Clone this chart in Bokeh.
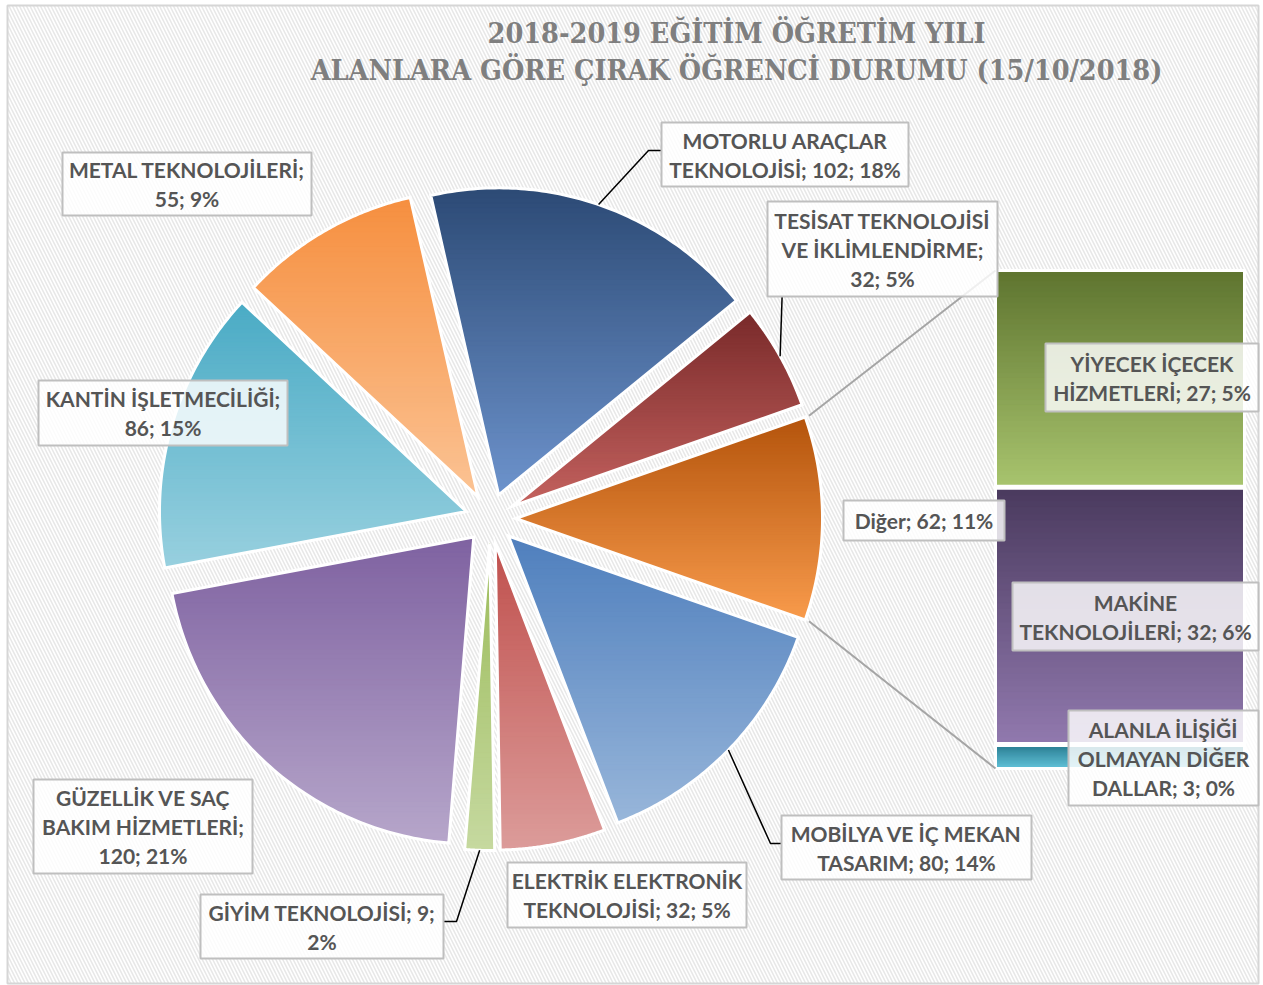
import numpy as np
from bokeh.plotting import figure
from bokeh.models import Range1d, ColumnDataSource
from bokeh.embed import file_html
from bokeh.resources import INLINE
from bokeh.core.properties import value

# ---------------- data ----------------
title_lines = ["2018-2019 EĞİTİM ÖĞRETİM YILI",
               "ALANLARA GÖRE ÇIRAK ÖĞRENCİ DURUMU (15/10/2018)"]

pie_names = ["MOTORLU ARAÇLAR\nTEKNOLOJİSİ", "TESİSAT TEKNOLOJİSİ\nVE İKLİMLENDİRME",
             "Diğer", "MOBİLYA VE İÇ MEKAN\nTASARIM", "ELEKTRİK ELEKTRONİK\nTEKNOLOJİSİ",
             "GİYİM TEKNOLOJİSİ", "GÜZELLİK VE SAÇ\nBAKIM HİZMETLERİ",
             "KANTİN İŞLETMECİLİĞİ", "METAL TEKNOLOJİLERİ"]
pie_values = [102, 32, 62, 80, 32, 9, 120, 86, 55]
pie_pcts = ["18%", "5%", "11%", "14%", "5%", "2%", "21%", "15%", "9%"]

bar_names = ["YİYECEK İÇECEK\nHİZMETLERİ", "MAKİNE\nTEKNOLOJİLERİ",
             "ALANLA İLİŞİĞİ\nOLMAYAN DİĞER\nDALLAR"]
bar_values = [27, 32, 3]
bar_pcts = ["5%", "6%", "0%"]

# ---------------- styles / layout ----------------
pie_top = ["#2c4a75", "#792a2a", "#b4540c", "#4f7fbd", "#c0504d", "#9bbb59", "#7f62a1", "#4aabc5", "#f68f3f"]
pie_bot = ["#6d93cc", "#c4625f", "#f89b4c", "#98b6da", "#dc9c9a", "#c6d9a0", "#b6a6ca", "#98d0df", "#fbc394"]
bar_top = ["#5e742f", "#4a3a5e", "#2a7d91"]
bar_bot = ["#a8c46e", "#9179ae", "#62c2d8"]

# label layout: box (x0, y0, x1, y1), separator after name, separator after value
pie_boxes = [(661, 122, 908, 186), (767, 201, 997, 296), (843, 500, 1004, 540),
             (781, 815, 1031, 879), (507, 862, 746, 927), (200, 894, 443, 958),
             (33, 779, 252, 873), (38, 380, 287, 445), (62, 152, 311, 215)]
pie_sep1 = ["; ", ";\n", "; ", "; ", "; ", "; ", ";\n", ";\n", ";\n"]
pie_sep2 = ["; ", "; ", "; ", "; ", "; ", ";\n", "; ", "; ", "; "]
bar_boxes = [(1045, 343, 1258, 411), (1012, 582, 1258, 650), (1068, 710, 1258, 805)]

CX, CY, R, EXPL = 490.0, 518.0, 307.0, 25.0
BAR_X0, BAR_X1, BAR_Y0, BAR_Y1 = 995.0, 1244.0, 270.0, 768.0
TXT = "#555555"
FONT = "Lato"
FS = "21px"
LINE_H = 29.0

W, H = 1263, 985
p = figure(width=W, height=H, x_range=Range1d(0, W), y_range=Range1d(H, 0),
           output_backend="svg", toolbar_location=None, min_border=0)
p.axis.visible = False
p.grid.visible = False
p.outline_line_color = None
p.background_fill_color = "white"
p.border_fill_color = "white"

# chart area with diagonal stripes
p.quad(left=[7], right=[1258], top=[5], bottom=[983], fill_color="white",
       line_color="#d6d6d6", line_width=2, hatch_pattern="left_diagonal_line",
       hatch_color="#e8e8e8", hatch_weight=1.6, hatch_scale=7)


def hex2rgb(h):
    h = h.lstrip("#")
    return np.array([int(h[i:i + 2], 16) for i in (0, 2, 4)], dtype=float)


def lerp(c0, c1, t):
    c = hex2rgb(c0) * (1 - t) + hex2rgb(c1) * t
    return "#%02x%02x%02x" % tuple(int(round(v)) for v in c)


def clip_half(pts, keep, yc):
    out = []
    n = len(pts)
    for i in range(n):
        a, b = pts[i], pts[(i + 1) % n]
        ka, kb = keep(a), keep(b)
        if ka:
            out.append(a)
        if ka != kb:
            t = (yc - a[1]) / (b[1] - a[1])
            out.append((a[0] + t * (b[0] - a[0]), yc))
    return out


def bands(poly, ctop, cbot, n=60):
    ys = [q[1] for q in poly]
    ymin, ymax = min(ys), max(ys)
    res = []
    step = (ymax - ymin) / n
    for i in range(n):
        y0 = ymin + i * step
        y1 = y0 + step + 0.9
        pts = clip_half(poly, lambda q: q[1] >= y0, y0)
        if pts:
            pts = clip_half(pts, lambda q: q[1] <= y1, y1)
        if len(pts) >= 3:
            res.append(([q[0] for q in pts], [q[1] for q in pts], lerp(ctop, cbot, (i + 0.5) / n)))
    return res


# ---------------- pie geometry ----------------
vals = np.array(pie_values, dtype=float)
tot = vals.sum()
ang = vals / tot * 360.0
idx_other = pie_names.index("Diğer")
start0 = 90.0 - ang[idx_other] / 2 - ang[:idx_other].sum()
starts = start0 + np.concatenate([[0], np.cumsum(ang)[:-1]])
ends = starts + ang
mids = (starts + ends) / 2


def pt(cx, cy, r, deg):
    t = np.radians(deg)
    return (cx + r * np.sin(t), cy - r * np.cos(t))


band_xs, band_ys, band_c = [], [], []
out_xs, out_ys = [], []
tips, arcmid = [], []
for i in range(len(vals)):
    tx, ty = pt(CX, CY, EXPL, mids[i])
    tips.append((tx, ty))
    arc = np.linspace(starts[i], ends[i], 80)
    poly = [(tx, ty)] + [pt(tx, ty, R, a) for a in arc]
    arcmid.append(pt(tx, ty, R, mids[i]))
    for xs, ys, c in bands(poly, pie_top[i], pie_bot[i]):
        band_xs.append(xs); band_ys.append(ys); band_c.append(c)
    out_xs.append([q[0] for q in poly]); out_ys.append([q[1] for q in poly])

# ---------------- bar (of pie) geometry ----------------
bvals = np.array(bar_values, dtype=float)
scale = (BAR_Y1 - BAR_Y0) / bvals.sum()
cum = np.concatenate([[0], np.cumsum(bvals)])
for j in range(len(bvals)):
    y0 = BAR_Y0 + cum[j] * scale + (1 if j > 0 else 0)
    y1 = BAR_Y0 + cum[j + 1] * scale - (1 if j < len(bvals) - 1 else 0)
    poly = [(BAR_X0, y0), (BAR_X1, y0), (BAR_X1, y1), (BAR_X0, y1)]
    for xs, ys, c in bands(poly, bar_top[j], bar_bot[j], n=40):
        band_xs.append(xs); band_ys.append(ys); band_c.append(c)
    out_xs.append([q[0] for q in poly]); out_ys.append([q[1] for q in poly])

p.patches(xs="xs", ys="ys", fill_color="c", line_color="c", line_width=0.8,
          source=ColumnDataSource(dict(xs=band_xs, ys=band_ys, c=band_c)))
p.patches(xs=out_xs, ys=out_ys, fill_alpha=0, line_color="white", line_width=3,
          line_join="miter")

# series connector lines (Diğer slice -> bar)
tx, ty = tips[idx_other]
c_top = pt(tx, ty, R + 4, starts[idx_other])
c_bot = pt(tx, ty, R + 4, ends[idx_other])
p.line([c_top[0], BAR_X0], [c_top[1], BAR_Y0], line_color="#a5a5a5", line_width=2)
p.line([c_bot[0], BAR_X0], [c_bot[1], BAR_Y1], line_color="#a5a5a5", line_width=2)

# leader lines
name_idx = {n.split("\n")[0]: k for k, n in enumerate(pie_names)}
leaders = [("MOTORLU ARAÇLAR", [(648, 150), (661, 150)]),
           ("MOBİLYA VE İÇ MEKAN", [(770, 843), (781, 843)]),
           ("GİYİM TEKNOLOJİSİ", [(456, 921), (443, 921)])]
for nm, rest in leaders:
    k = name_idx[nm]
    pts = [arcmid[k]] + rest
    p.line([q[0] for q in pts], [q[1] for q in pts], line_color="black", line_width=1.5)
k = name_idx["TESİSAT TEKNOLOJİSİ"]
p.line([arcmid[k][0], arcmid[k][0] + 2], [arcmid[k][1], pie_boxes[k][3]], line_color="black", line_width=1.5)

# ---------------- labels ----------------
labels = []
for i in range(len(pie_names)):
    labels.append((pie_names[i] + pie_sep1[i] + str(pie_values[i]) + pie_sep2[i] + pie_pcts[i], pie_boxes[i]))
for j in range(len(bar_names)):
    labels.append((bar_names[j] + "; " + str(bar_values[j]) + "; " + bar_pcts[j], bar_boxes[j]))

bx0, bx1, by0, by1 = [], [], [], []
lx, ly, lt = [], [], []
for text, (x0, y0, x1, y1) in labels:
    bx0.append(x0); bx1.append(x1); by0.append(y0); by1.append(y1)
    lines = text.split("\n")
    yc = (y0 + y1) / 2
    for m, ln in enumerate(lines):
        lx.append((x0 + x1) / 2)
        ly.append(yc + (m - (len(lines) - 1) / 2) * LINE_H)
        lt.append(ln)

p.quad(left=bx0, right=bx1, top=by0, bottom=by1, fill_color="white", fill_alpha=0.82,
       line_color="#bfbfbf", line_width=2)
p.text(x=lx, y=ly, text=lt, text_align="center", text_baseline="middle",
       text_font=value(FONT), text_font_style="bold", text_font_size=FS, text_color=TXT)

# ---------------- title ----------------
p.text(x=[736, 736], y=[32, 69], text=title_lines, text_align="center", text_baseline="middle",
       text_font=value("DejaVu Serif Condensed"), text_font_style="bold",
       text_font_size="28.5px", text_color="#7f7f7f")

open("out.html", "w").write(file_html(p, INLINE))
